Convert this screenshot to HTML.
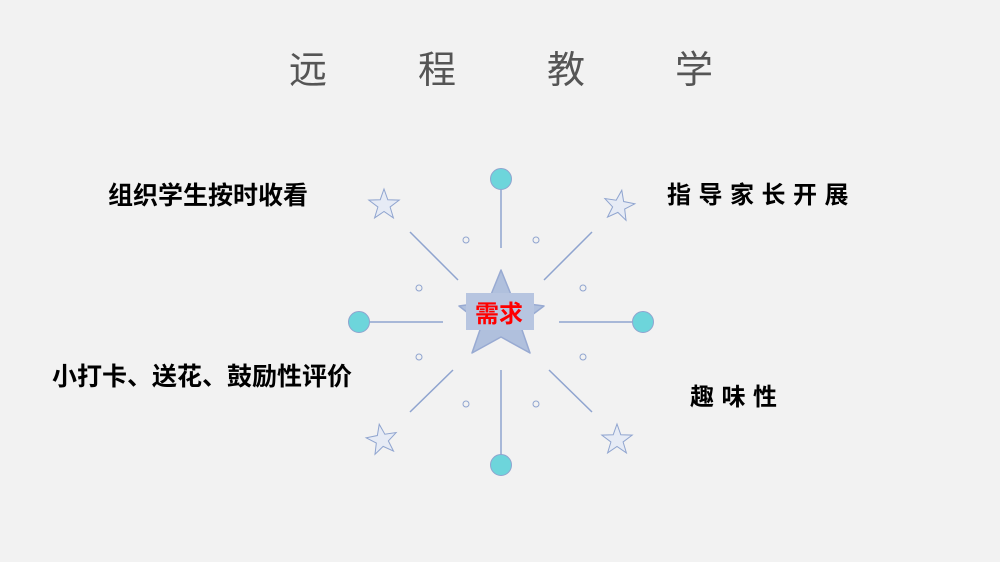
<!DOCTYPE html>
<html><head><meta charset="utf-8"><style>
body{margin:0;width:1000px;height:562px;background:#f2f2f2;overflow:hidden;position:relative;font-family:"Liberation Sans","Noto Sans CJK SC",sans-serif}
.t{position:absolute;white-space:nowrap;line-height:1}
.lab{font-size:25px;font-weight:bold;color:#000}
.ti{font-size:38px;color:#555;top:52px}
</style></head><body>
<div class="t ti" style="left:289px">远</div>
<div class="t ti" style="left:418px">程</div>
<div class="t ti" style="left:547px">教</div>
<div class="t ti" style="left:675px">学</div>
<div class="t lab" style="left:108px;top:184px">组织学生按时收看</div>
<div class="t lab" style="left:52px;top:365px">小打卡、送花、鼓励性评价</div>
<div class="t lab" style="left:667px;top:184px;font-size:24px;letter-spacing:7.5px">指导家长开展</div>
<div class="t lab" style="left:690px;top:386px;font-size:24px;letter-spacing:7.5px">趣味性</div>
<svg width="1000" height="562" style="position:absolute;left:0;top:0">
<g stroke="#8fa4cf" stroke-width="1.5">
<line x1="501" y1="190" x2="501" y2="248"/><line x1="501" y1="370" x2="501" y2="455"/>
<line x1="370" y1="322" x2="443" y2="322"/><line x1="559" y1="322" x2="632" y2="322"/>
<line x1="410" y1="232" x2="458" y2="280"/><line x1="592" y1="232" x2="544" y2="280"/>
<line x1="453" y1="370" x2="410" y2="412"/><line x1="549" y1="370" x2="592" y2="412"/>
</g>
<g fill="none" stroke="#8fa4cf" stroke-width="1">
<circle cx="466" cy="240" r="3"/><circle cx="536" cy="240" r="3"/><circle cx="419" cy="288" r="3"/><circle cx="583" cy="288" r="3"/>
<circle cx="419" cy="357" r="3"/><circle cx="583" cy="357" r="3"/><circle cx="466" cy="404" r="3"/><circle cx="536" cy="404" r="3"/>
</g>
<g fill="#6dd5db" stroke="#8fa4cf" stroke-width="1">
<circle cx="501" cy="179" r="10.5"/><circle cx="501" cy="465" r="10.5"/><circle cx="359" cy="322" r="10.5"/><circle cx="643" cy="322" r="10.5"/>
</g>
<g fill="#e6ebf5" stroke="#8fa4cf" stroke-width="1">
<polygon points="0,-16 3.8,-5.2 15.2,-4.9 6.1,2 9.4,12.9 0,6.5 -9.4,12.9 -6.1,2 -15.2,-4.9 -3.8,-5.2" transform="translate(384,205)"/>
<polygon points="0,-16 3.8,-5.2 15.2,-4.9 6.1,2 9.4,12.9 0,6.5 -9.4,12.9 -6.1,2 -15.2,-4.9 -3.8,-5.2" transform="translate(619,206) rotate(10)"/>
<polygon points="0,-16 3.8,-5.2 15.2,-4.9 6.1,2 9.4,12.9 0,6.5 -9.4,12.9 -6.1,2 -15.2,-4.9 -3.8,-5.2" transform="translate(382,440) rotate(-10)"/>
<polygon points="0,-16 3.8,-5.2 15.2,-4.9 6.1,2 9.4,12.9 0,6.5 -9.4,12.9 -6.1,2 -15.2,-4.9 -3.8,-5.2" transform="translate(617,440)"/>
</g>
<polygon points="501,270 514,302 544,306 520,324 530,353 501,337 472,353 482,324 459,306 488,302" fill="#b0c0dd" stroke="#98aad2" stroke-width="1.5" stroke-linejoin="round"/>
<rect x="466" y="293" width="68" height="37" fill="#b7c5e0"/>
<text x="499" y="322" font-size="24" font-weight="bold" fill="#ff0000" text-anchor="middle" font-family="Liberation Sans, Noto Sans CJK SC, sans-serif">需求</text>
</svg>
</body></html>
